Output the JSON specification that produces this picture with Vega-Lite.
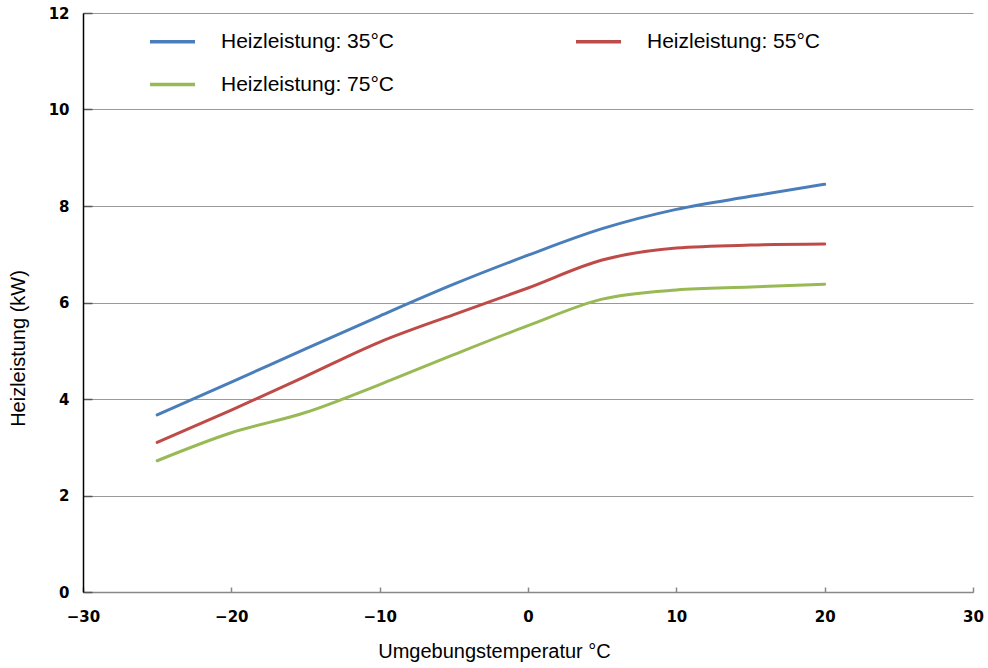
{
  "$schema": "https://vega.github.io/schema/vega-lite/v6.json",
  "width": 890,
  "height": 579,
  "autosize": {"type": "none"},
  "padding": {"left": 83, "top": 13, "right": 15, "bottom": 76},
  "background": "white",
  "config": {
    "view": {"stroke": null},
    "font": "Liberation Sans"
  },
  "data": {
    "values": [
      {"t": -25, "kw": 3.67, "s": "Heizleistung: 35°C"},
      {"t": -20, "kw": 4.35, "s": "Heizleistung: 35°C"},
      {"t": -15, "kw": 5.04, "s": "Heizleistung: 35°C"},
      {"t": -10, "kw": 5.72, "s": "Heizleistung: 35°C"},
      {"t": -5, "kw": 6.38, "s": "Heizleistung: 35°C"},
      {"t": 0, "kw": 6.98, "s": "Heizleistung: 35°C"},
      {"t": 5, "kw": 7.53, "s": "Heizleistung: 35°C"},
      {"t": 10, "kw": 7.93, "s": "Heizleistung: 35°C"},
      {"t": 15, "kw": 8.2, "s": "Heizleistung: 35°C"},
      {"t": 20, "kw": 8.45, "s": "Heizleistung: 35°C"},
      {"t": -25, "kw": 3.1, "s": "Heizleistung: 55°C"},
      {"t": -20, "kw": 3.77, "s": "Heizleistung: 55°C"},
      {"t": -15, "kw": 4.47, "s": "Heizleistung: 55°C"},
      {"t": -10, "kw": 5.18, "s": "Heizleistung: 55°C"},
      {"t": -5, "kw": 5.75, "s": "Heizleistung: 55°C"},
      {"t": 0, "kw": 6.3, "s": "Heizleistung: 55°C"},
      {"t": 5, "kw": 6.88, "s": "Heizleistung: 55°C"},
      {"t": 10, "kw": 7.13, "s": "Heizleistung: 55°C"},
      {"t": 15, "kw": 7.19, "s": "Heizleistung: 55°C"},
      {"t": 20, "kw": 7.21, "s": "Heizleistung: 55°C"},
      {"t": -25, "kw": 2.72, "s": "Heizleistung: 75°C"},
      {"t": -20, "kw": 3.3, "s": "Heizleistung: 75°C"},
      {"t": -15, "kw": 3.72, "s": "Heizleistung: 75°C"},
      {"t": -10, "kw": 4.3, "s": "Heizleistung: 75°C"},
      {"t": -5, "kw": 4.92, "s": "Heizleistung: 75°C"},
      {"t": 0, "kw": 5.52, "s": "Heizleistung: 75°C"},
      {"t": 5, "kw": 6.07, "s": "Heizleistung: 75°C"},
      {"t": 10, "kw": 6.26, "s": "Heizleistung: 75°C"},
      {"t": 15, "kw": 6.32, "s": "Heizleistung: 75°C"},
      {"t": 20, "kw": 6.38, "s": "Heizleistung: 75°C"}
    ]
  },
  "mark": {"type": "line", "interpolate": "monotone", "strokeWidth": 3, "strokeCap": "round"},
  "encoding": {
    "x": {
      "field": "t", "type": "quantitative",
      "scale": {"domain": [-30, 30], "nice": false},
      "axis": {
        "values": [-30, -20, -10, 0, 10, 20, 30],
        "labelFlush": false,
        "title": "Umgebungstemperatur °C",
        "titleFont": "Liberation Sans", "titleFontSize": 20, "titleFontWeight": "normal", "titleColor": "#000",
        "titlePadding": 17,
        "titleX": 411,
        "labelFont": "DejaVu Sans", "labelFontSize": 15, "labelFontWeight": "bold", "labelColor": "#000",
        "labelPadding": 22,
        "domainColor": "#888", "domainWidth": 1.5,
        "tickColor": "#888", "tickSize": -5, "tickWidth": 1.5,
        "grid": false
      }
    },
    "y": {
      "field": "kw", "type": "quantitative",
      "scale": {"domain": [0, 12], "nice": false},
      "axis": {
        "values": [0, 2, 4, 6, 8, 10, 12],
        "labelFlush": false,
        "title": "Heizleistung (kW)",
        "titleFont": "Liberation Sans", "titleFontSize": 20, "titleFontWeight": "normal", "titleColor": "#000",
        "titlePadding": 20,
        "titleY": 335,
        "labelFont": "DejaVu Sans", "labelFontSize": 15, "labelFontWeight": "bold", "labelColor": "#000",
        "labelPadding": 23,
        "domainColor": "#000", "domainWidth": 1.5,
        "tickColor": "#555", "tickSize": -9, "tickWidth": 1.5,
        "grid": true, "gridColor": "#999", "gridWidth": 1.2
      }
    },
    "color": {
      "field": "s", "type": "nominal",
      "sort": ["Heizleistung: 35°C", "Heizleistung: 75°C", "Heizleistung: 55°C"],
      "scale": {"range": ["#4a7ebb", "#98b954", "#be4b48"]},
      "legend": {
        "title": null,
        "orient": "none",
        "legendX": 65,
        "legendY": 4,
        "columns": 2,
        "columnPadding": 175,
        "rowPadding": 8,
        "symbolType": "stroke",
        "symbolSize": 2025,
        "symbolStrokeWidth": 3.5,
        "labelOffset": 24,
        "labelFont": "Liberation Sans",
        "labelFontSize": 21,
        "labelColor": "#000",
        "labelLimit": 300
      }
    }
  }
}
